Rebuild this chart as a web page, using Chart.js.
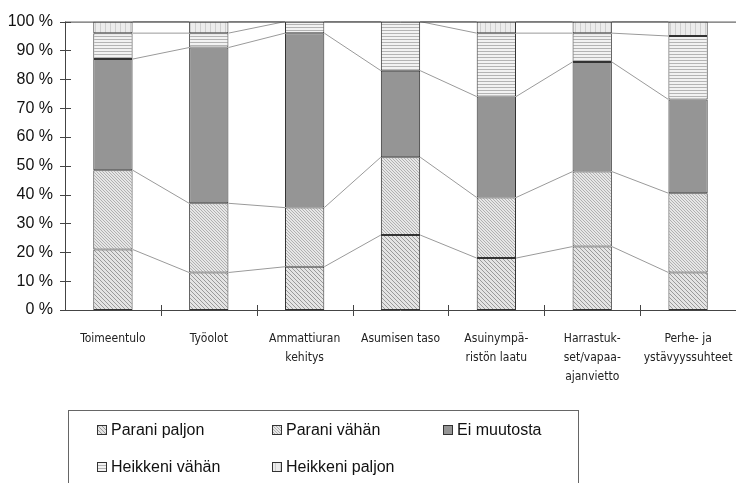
<!DOCTYPE html>
<html>
<head>
<meta charset="utf-8">
<script src="https://cdn.jsdelivr.net/npm/chart.js@4/dist/chart.umd.min.js"></script>
<style>
  html, body { margin: 0; padding: 0; background: #fff; }
  #wrap { width: 736px; height: 483px; position: relative; }
</style>
</head>
<body>
<div id="wrap"><canvas id="muutos"></canvas></div>
<script>
const categories = ['Toimeentulo', 'Työolot', ['Ammattiuran', 'kehitys'], 'Asumisen taso',
    ['Asuinympä-', 'ristön laatu'], ['Harrastuk-', 'set/vapaa-', 'ajanvietto'], ['Perhe- ja', 'ystävyyssuhteet']];

const seriesNames = ['Parani paljon', 'Parani vähän', 'Ei muutosta', 'Heikkeni vähän', 'Heikkeni paljon'];

const paraniPaljon   = [21, 13, 15, 26, 18, 22, 13];
const paraniVahan    = [27.5, 24, 20.5, 27, 21, 26, 27.5];
const eiMuutosta     = [38.5, 54, 60.5, 30, 35, 38, 32.5];
const heikkeniVahan  = [9, 5, 4, 17, 22, 10, 22];
const heikkeniPaljon = [4, 4, 0, 0, 4, 4, 5];

const yTicks = [0, 10, 20, 30, 40, 50, 60, 70, 80, 90, 100];

// small tile patterns for the black & white look
function tile(size, bg, fg, kind) {
    const c = document.createElement('canvas');
    c.width = c.height = size;
    const g = c.getContext('2d');
    g.fillStyle = bg;
    g.fillRect(0, 0, size, size);
    g.fillStyle = fg;
    for (let i = 0; i < size; i++) {
        if (kind === 'back') g.fillRect(i, i, 1, 1);
        if (kind === 'fwd') g.fillRect(size - 1 - i, i, 1, 1);
    }
    if (kind === 'horiz') g.fillRect(0, 0, size, 1);
    if (kind === 'vert') g.fillRect(0, 0, 1, size);
    return g.createPattern(c, 'repeat');
}

const fills = [
    tile(4, '#e4e4e4', '#9a9a9a', 'back'),
    tile(3, '#e6e6e6', '#b0b0b0', 'back'),
    '#959595',
    tile(3, '#f2f2f2', '#b4b4b4', 'horiz'),
    tile(5, '#ececec', '#cfcfcf', 'vert')
];

const values = [paraniPaljon, paraniVahan, eiMuutosta, heikkeniVahan, heikkeniPaljon];

const datasets = values.map((v, i) => ({
    label: seriesNames[i],
    data: v,
    backgroundColor: fills[i],
    borderColor: '#333',
    borderWidth: 1,
    borderSkipped: false,
    barPercentage: 0.41,
    categoryPercentage: 1
}));

const narrow = "'Liberation Sans Narrow', 'DejaVu Sans Condensed', 'Liberation Sans', sans-serif";
const plain = "'Liberation Sans', Arial, sans-serif";

// axes, series lines and the boxed legend
const extras = {
    id: 'extras',
    afterDatasetsDraw(chart) {
        const ctx = chart.ctx;
        const { left, right, top, bottom } = chart.chartArea;
        const y = chart.scales.y;
        const x = chart.scales.x;

        ctx.save();
        // series lines between neighbouring bars
        ctx.strokeStyle = '#9a9a9a';
        ctx.lineWidth = 1;
        for (let d = 0; d < chart.data.datasets.length; d++) {
            const bars = chart.getDatasetMeta(d).data;
            for (let j = 0; j < bars.length - 1; j++) {
                const a = bars[j], b = bars[j + 1];
                ctx.beginPath();
                ctx.moveTo(a.x + a.width / 2, a.y);
                ctx.lineTo(b.x - b.width / 2, b.y);
                ctx.stroke();
            }
        }

        ctx.strokeStyle = '#444';
        ctx.beginPath();
        ctx.moveTo(left, top + 0.5); ctx.lineTo(right, top + 0.5);
        ctx.moveTo(left + 0.5, top); ctx.lineTo(left + 0.5, bottom);
        ctx.moveTo(left, bottom + 0.5); ctx.lineTo(right, bottom + 0.5);
        yTicks.forEach(t => {
            const py = Math.round(y.getPixelForValue(t)) + 0.5;
            ctx.moveTo(left - 5, py); ctx.lineTo(left + 6, py);
        });
        for (let j = 1; j <= categories.length; j++) {
            const px = Math.round(x.getPixelForValue(j - 0.5)) + 0.5;
            ctx.moveTo(px, bottom - 5); ctx.lineTo(px, bottom + 6);
        }
        ctx.stroke();
        ctx.restore();
    },
    afterDraw(chart) {
        const ctx = chart.ctx;
        ctx.save();
        ctx.strokeStyle = '#666';
        ctx.lineWidth = 1;
        ctx.strokeRect(68.5, 410.5, 510, 100);

        const cols = [97, 272, 443];
        const rows = [430, 467];
        ctx.font = '16px ' + plain;
        ctx.textBaseline = 'middle';
        chart.data.datasets.forEach((ds, i) => {
            const ix = cols[i % 3], iy = rows[Math.floor(i / 3)];
            ctx.fillStyle = ds.backgroundColor;
            ctx.fillRect(ix, iy - 5, 10, 10);
            ctx.strokeStyle = '#333';
            ctx.strokeRect(ix + 0.5, iy - 4.5, 9, 9);
            ctx.fillStyle = '#111';
            ctx.fillText(ds.label, ix + 14, iy + 1);
        });
        ctx.restore();
    }
};

new Chart(document.getElementById('muutos'), {
    type: 'bar',
    data: { labels: categories, datasets: datasets },
    plugins: [extras],
    options: {
        responsive: true,
        maintainAspectRatio: false,
        animation: false,
        layout: { padding: { top: 21, right: 0, left: 0, bottom: 0 } },
        plugins: {
            legend: { display: false },
            tooltip: { enabled: false }
        },
        scales: {
            x: {
                stacked: true,
                grid: { display: false, drawTicks: false },
                border: { display: false },
                ticks: {
                    color: '#222',
                    font: { family: narrow, size: 12, lineHeight: 1.55 },
                    padding: 20,
                    maxRotation: 0,
                    autoSkip: false
                },
                afterFit: s => {
                    s.height = 173;
                    s.paddingLeft = 0;
                    s.paddingRight = 0;
                }
            },
            y: {
                stacked: true,
                min: 0,
                max: 100,
                grid: { display: false, drawTicks: false },
                border: { display: false },
                ticks: {
                    stepSize: 10,
                    color: '#111',
                    font: { family: plain, size: 16 },
                    padding: 12,
                    callback: v => v + ' %'
                },
                afterFit: s => { s.width = 65; }
            }
        }
    }
});
</script>
</body>
</html>
